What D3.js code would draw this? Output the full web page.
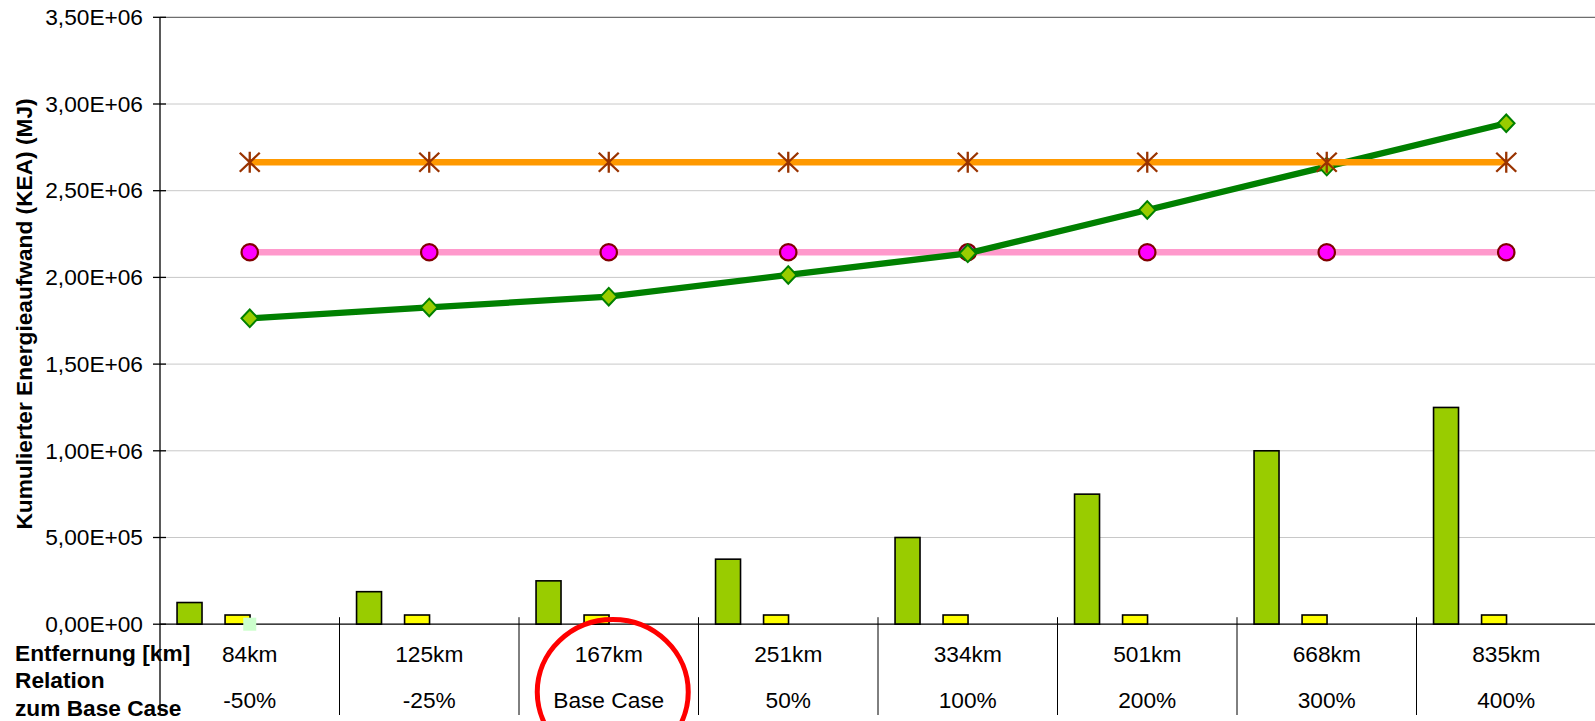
<!DOCTYPE html>
<html>
<head>
<meta charset="utf-8">
<script src="https://cdn.jsdelivr.net/npm/d3@7"></script>
<style>
  html, body { margin: 0; padding: 0; background: #ffffff; }
  svg { display: block; }
  text { font-family: "Liberation Sans", Arial, sans-serif; fill: #000; }
</style>
</head>
<body>
<svg id="chart" width="1595" height="721"></svg>
<script>
// ---- data ----
const categories = ["84km", "125km", "167km", "251km", "334km", "501km", "668km", "835km"];
const relations = ["-50%", "-25%", "Base Case", "50%", "100%", "200%", "300%", "400%"];
const barGreen = [125000, 187500, 250000, 375000, 500000, 750000, 1000000, 1250000];
const barYellow = [53000, 53000, 53000, 53000, 53000, 53000, 53000, 53000];
const lineGreen = [1764000, 1827000, 1889000, 2014000, 2139000, 2389000, 2639000, 2889000];
const linePink = [2145000, 2145000, 2145000, 2145000, 2145000, 2145000, 2145000, 2145000];
const lineOrange = [2664000, 2664000, 2664000, 2664000, 2664000, 2664000, 2664000, 2664000];
const pointLightGreen = [0];
const yTicks = [0, 500000, 1000000, 1500000, 2000000, 2500000, 3000000, 3500000];
const yTickLabels = ["0,00E+00", "5,00E+05", "1,00E+06", "1,50E+06", "2,00E+06", "2,50E+06", "3,00E+06", "3,50E+06"];
const rowLabels = ["Entfernung [km]", "Relation", "zum Base Case"];
const yTitle = "Kumulierter Energieaufwand (KEA) (MJ)";
const highlighted = "167km";

// ---- layout ----
(function () {
const svg = d3.select("#chart");
const pl = 160, pr = 1596, pt = 17.3, pb = 624.2;
const fs = 22.7;

const x = d3.scaleBand().domain(categories).range([pl, pr]).padding(0);
const bw = x.bandwidth();
const inner = d3.scaleBand().domain(["g", "y", "n"])
  .range([bw * 0.095, bw * 0.095 + 121]).paddingInner(0.48);
const y = d3.scaleLinear().domain([0, 3500000]).range([pb, pt]);
const cx = c => x(c) + bw / 2;

// gridlines
svg.append("g").selectAll("line").data(yTicks.slice(1, -1)).join("line")
  .attr("x1", pl).attr("x2", pr)
  .attr("y1", d => y(d)).attr("y2", d => y(d))
  .attr("stroke", "#c8c8c8").attr("stroke-width", 1);
svg.append("line").attr("x1", pl).attr("x2", pr)
  .attr("y1", y(3500000)).attr("y2", y(3500000))
  .attr("stroke", "#6e6e6e").attr("stroke-width", 1.3);

// bars
const bars = svg.append("g");
bars.selectAll("rect.g").data(categories).join("rect").attr("class", "g")
  .attr("x", (c) => x(c) + inner("g")).attr("width", inner.bandwidth())
  .attr("y", (c, i) => y(barGreen[i])).attr("height", (c, i) => y(0) - y(barGreen[i]))
  .attr("fill", "#99cc00").attr("stroke", "#000").attr("stroke-width", 1.6);
bars.selectAll("rect.y").data(categories).join("rect").attr("class", "y")
  .attr("x", (c) => x(c) + inner("y")).attr("width", inner.bandwidth())
  .attr("y", (c, i) => y(barYellow[i])).attr("height", (c, i) => y(0) - y(barYellow[i]))
  .attr("fill", "#ffff00").attr("stroke", "#000").attr("stroke-width", 1.6);

// y axis
const yAxis = d3.axisLeft(y).tickValues(yTicks).tickFormat((d, i) => yTickLabels[i]).tickSize(0).tickPadding(17);
const ga = svg.append("g").attr("transform", `translate(${pl},0)`).call(yAxis);
ga.select(".domain").remove();
ga.selectAll("text").attr("font-size", fs).attr("font-family", "Liberation Sans, Arial, sans-serif");
svg.append("g").selectAll("line").data(yTicks).join("line")
  .attr("x1", pl - 7).attr("x2", pl + 6)
  .attr("y1", d => y(d)).attr("y2", d => y(d))
  .attr("stroke", "#000").attr("stroke-width", 1.3);
svg.append("line").attr("x1", pl).attr("x2", pl).attr("y1", pt).attr("y2", 715)
  .attr("stroke", "#000").attr("stroke-width", 1.3);

// x axis line and category dividers
svg.append("line").attr("x1", pl).attr("x2", pr).attr("y1", y(0)).attr("y2", y(0))
  .attr("stroke", "#000").attr("stroke-width", 1.3);
svg.append("g").selectAll("line").data(categories.slice(1)).join("line")
  .attr("x1", c => x(c)).attr("x2", c => x(c))
  .attr("y1", y(0) - 7).attr("y2", 715)
  .attr("stroke", "#000").attr("stroke-width", 1);

// category table text
svg.append("g").selectAll("text").data(categories).join("text")
  .attr("x", c => cx(c)).attr("y", 661.5).attr("text-anchor", "middle")
  .attr("font-size", fs).text(c => c);
svg.append("g").selectAll("text").data(relations).join("text")
  .attr("x", (r, i) => cx(categories[i])).attr("y", 707.5).attr("text-anchor", "middle")
  .attr("font-size", fs).text(r => r);
svg.append("g").selectAll("text").data(rowLabels).join("text")
  .attr("x", 15).attr("y", (d, i) => [660.5, 688, 716][i])
  .attr("font-size", fs).attr("font-weight", "bold").text(d => d);

// y title
svg.append("text").attr("transform", `translate(32,314) rotate(-90)`)
  .attr("text-anchor", "middle").attr("font-size", fs).attr("font-weight", "bold").text(yTitle);

// lines
const line = d3.line().x((d, i) => cx(categories[i])).y(d => y(d));
// pink
svg.append("path").attr("d", line(linePink)).attr("fill", "none")
  .attr("stroke", "#ff99cc").attr("stroke-width", 6.3);
svg.append("g").selectAll("circle").data(linePink).join("circle")
  .attr("cx", (d, i) => cx(categories[i])).attr("cy", d => y(d)).attr("r", 8.2)
  .attr("fill", "#ff00ff").attr("stroke", "#800000").attr("stroke-width", 2.2);
// green
svg.append("path").attr("d", line(lineGreen)).attr("fill", "none")
  .attr("stroke", "#008000").attr("stroke-width", 6.3);
svg.append("g").selectAll("path").data(lineGreen).join("path")
  .attr("transform", (d, i) => `translate(${cx(categories[i])},${y(d)})`)
  .attr("d", "M0,-8.8L8.3,0L0,8.8L-8.3,0Z")
  .attr("fill", "#99cc00").attr("stroke", "#008000").attr("stroke-width", 2);
// orange
svg.append("path").attr("d", line(lineOrange)).attr("fill", "none")
  .attr("stroke", "#ff9900").attr("stroke-width", 6.3);
svg.append("g").selectAll("path").data(lineOrange).join("path")
  .attr("transform", (d, i) => `translate(${cx(categories[i])},${y(d)})`)
  .attr("d", "M-10,-9.5L10,9.5M-10,9.5L10,-9.5M0,-10.5L0,10.5")
  .attr("fill", "none").attr("stroke", "#993300").attr("stroke-width", 2.3);
// light green point
svg.append("g").selectAll("rect").data(pointLightGreen).join("rect")
  .attr("x", (d, i) => cx(categories[i]) - 6.5).attr("y", d => y(d) - 6.5)
  .attr("width", 13).attr("height", 13).attr("fill", "#ccffcc");

// red highlight ellipse
svg.append("ellipse").attr("cx", cx(highlighted) + 4).attr("cy", 692)
  .attr("rx", 75.5).attr("ry", 72.5)
  .attr("fill", "none").attr("stroke", "#ff0000").attr("stroke-width", 5);
})();
</script>
</body>
</html>
